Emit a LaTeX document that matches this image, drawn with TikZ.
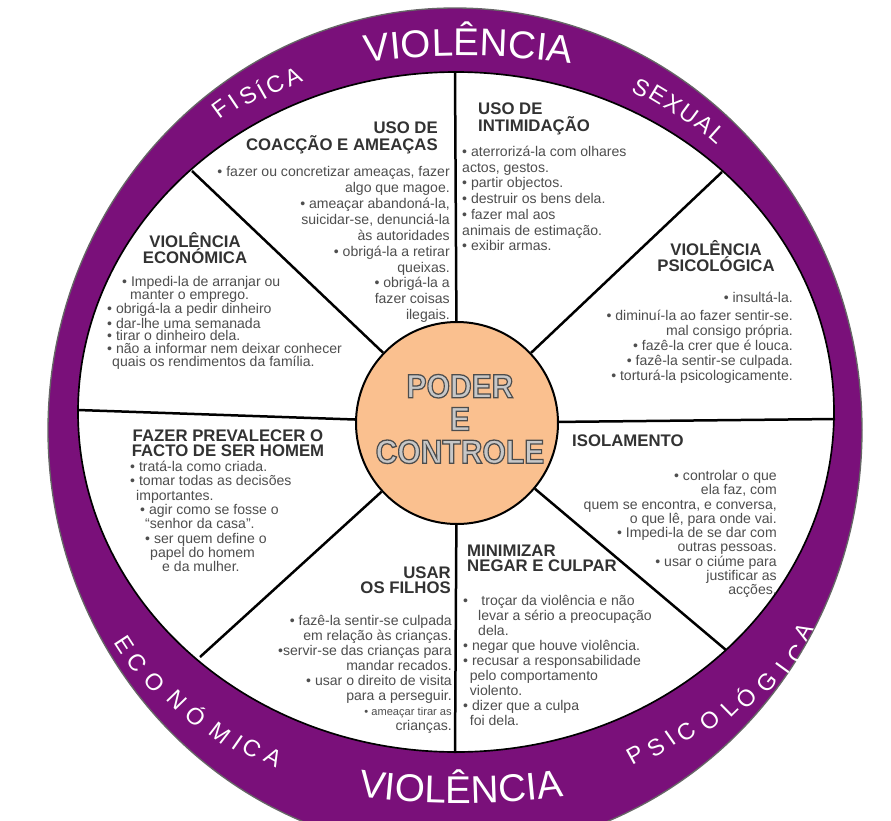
\documentclass[tikz,border=0pt]{standalone}
\usepackage{fontspec}
\setmainfont{Liberation Sans}
\newfontfamily\hubplain{Liberation Sans Bold}
\usetikzlibrary{decorations.text}
\definecolor{ringpurple}{RGB}{122,16,122}
\definecolor{hubpeach}{RGB}{250,192,143}
\definecolor{headgray}{RGB}{50,50,50}
\definecolor{bodygray}{RGB}{78,78,78}
\newcommand{\ringbig}{\fontsize{33}{33}\selectfont}
\newcommand{\outlineon}{\special{pdf:literal 2 Tr 1.1 w 0.3 0.3 0.3 RG}}
\newcommand{\outlineoff}{\special{pdf:literal 0 Tr}}

\begin{document}
\begin{tikzpicture}[x=0.3mm, y=-0.3mm]
        \tikzset{
            head/.style={font=\fontsize{14.3}{12.8}\selectfont\bfseries, text=headgray, inner sep=0pt},
            body/.style={font=\fontsize{12}{#1}\selectfont, text=bodygray, inner sep=0pt},
            body/.default=13.4,
            spoke/.style={line width=0.75mm},
            ringsm/.style={font=\fontsize{20}{20}\selectfont, text=white, inner sep=0pt},
            hubtxt/.style={align=center, inner sep=0pt, xscale=0.9},
            ringword/.style={decorate, decoration={text along path, text={|\ringbig|#1}, text align=center, text color=white}}
        }
        \useasboundingbox (0,0) rectangle (891,821);

        \begin{scope}
            \filldraw[fill=ringpurple, draw=black!60, line width=0.4mm] (455,430) ellipse [x radius=407, y radius=422];
            \filldraw[fill=white, draw=black, line width=0.5mm] (456,412) ellipse [x radius=378, y radius=340];
        \end{scope}

        \node[circle, draw, fill=hubpeach, line width=0.6mm, minimum size=60.6mm, inner sep=0pt] (hub) at (457,423) {};
        \node[hubtxt, font=\hubplain\fontsize{28.5}{28}\selectfont, text=black!22] (hubtext) at (460,419)
        {\outlineon PODER\\\outlineon E\\\outlineon CONTROLE\outlineoff};

        \coordinate (sN) at (455,72);
        \coordinate (sNE) at (722,172);
        \coordinate (sE) at (835,419);
        \coordinate (sSE) at (726,650);
        \coordinate (sS) at (455,753);
        \coordinate (sSW) at (200,657);
        \coordinate (sW) at (78,410);
        \coordinate (sNW) at (192,171);
        \begin{scope}[spoke]
            \foreach \s in {sN,sNE,sE,sSE,sS,sSW,sW,sNW}
                \draw (hub) -- (\s);
        \end{scope}

        \node[head, anchor=north east, align=right] (coachead) at (438,122)
        {USO DE\\COACÇÃO E AMEAÇAS};
        \node[body=13.6, anchor=north east, align=right] (coacbody) at (450,166)
        {• fazer ou concretizar ameaças, fazer\\algo que magoe.\\• ameaçar abandoná-la,\\suicidar-se, denunciá-la\\às autoridades\\• obrigá-la a retirar\\queixas.\\• obrigá-la a\\fazer coisas\\ilegais.};

        \node[head, anchor=north west, align=left] (intihead) at (478,103)
        {USO DE\\INTIMIDAÇÃO};
        \node[body, anchor=north west, align=left] (intibody) at (462,146)
        {• aterrorizá-la com olhares\\actos, gestos.\\• partir objectos.\\• destruir os bens dela.\\• fazer mal aos\\animais de estimação.\\• exibir armas.};

        \node[head, anchor=north, align=center] (econhead) at (195,232)
        {VIOLÊNCIA\\ECONÓMICA};
        \node[body=11, anchor=north west, align=left] (econbody) at (107,276)
        {\hspace*{4.5mm}• Impedi-la de arranjar ou\\\hspace*{6.9mm}manter o emprego.\\• obrigá-la a pedir dinheiro\\• dar-lhe uma semanada\\• tirar o dinheiro dela.\\• não a informar nem deixar conhecer\\\hspace*{1.5mm}quais os rendimentos da família.};

        \node[head, anchor=north, align=center] (psichead) at (716,240)
        {VIOLÊNCIA\\PSICOLÓGICA};
        \node[body=12.8, anchor=north east, align=right] (psicbody) at (793,292)
        {• insultá-la.\\[0.9mm]• diminuí-la ao fazer sentir-se.\\mal consigo própria.\\• fazê-la crer que é louca.\\• fazê-la sentir-se culpada.\\• torturá-la psicologicamente.};

        \node[head, anchor=north, align=center] (homehead) at (228,430)
        {FAZER PREVALECER O\\FACTO DE SER HOMEM};
        \node[body=12.2, anchor=north west, align=left] (homebody) at (130,461)
        {• tratá-la como criada.\\• tomar todas as decisões\\\hspace*{1.8mm}importantes.\\\hspace*{3mm}• agir como se fosse o\\\hspace*{4.5mm}“senhor da casa”.\\\hspace*{4.5mm}• ser quem define o\\\hspace*{6mm}papel do homem\\\hspace*{9.6mm}e da mulher.};

        \node[head, anchor=north west, align=left] (isolhead) at (572,435)
        {ISOLAMENTO};
        \node[body=12.2, anchor=north east, align=right] (isolbody) at (777,470)
        {• controlar o que\\ela faz, com\\quem se encontra, e conversa,\\o que lê, para onde vai.\\• Impedi-la de se dar com\\outras pessoas.\\• usar o ciúme para\\justificar as\\acções.};

        \node[head, anchor=north east, align=right] (filhead) at (451,567)
        {USAR\\OS FILHOS};
        \node[body=12.8, anchor=north east, align=right] (filbody) at (452,615)
        {• fazê-la sentir-se culpada\\em relação às crianças.\\•servir-se das crianças para\\mandar recados.\\• usar o direito de visita\\para a perseguir.\\{\fontsize{9.5}{12.8}\selectfont • ameaçar tirar as}\\crianças.};

        \node[head, anchor=north west, align=left] (minihead) at (467,545)
        {MINIMIZAR\\NEGAR E CULPAR};
        \node[body=12.8, anchor=north west, align=left] (minibody) at (463,595)
        {•\hspace{4mm}troçar da violência e não\\\hspace*{4.5mm}levar a sério a preocupação\\\hspace*{4.5mm}dela.\\• negar que houve violência.\\• recusar a responsabilidade\\\hspace*{2mm}pelo comportamento\\\hspace*{2mm}violento.\\• dizer que a culpa\\\hspace*{2mm}foi dela.};

        \path[ringword=VIOLÊNCIA] (355,64) .. controls (425,53) and (500,53) .. (582,65);
        \path[ringword=VIOLÊNCIA] (350,795) .. controls (420,806) and (500,806) .. (572,795);

        \foreach \ch/\x/\y [count=\i] in {F/221/109, I/234/102, S/248/96, Í/261/90, C/275/84, A/293/77,
                S/641/88, E/658/95, X/673/104, U/689/114, A/705/124, L/718/135} {
            \pgfmathsetmacro\r{atan2(430-\y,\x-455)-90}
            \node[ringsm, rotate=\r] (top\i) at (\x,\y) {\ch};
        }
        \foreach \ch/\x/\y [count=\i] in {E/125/645, C/137/663, O/155/682, N/177/700, Ó/197/715, M/220/733,
                I/238/743, C/252/748, A/273/757, P/635/755, S/656/747, I/671/738, C/686/732, O/710/720,
                L/729/708, Ó/745/697, G/767/682, I/783/668, C/797/654, A/803/632} {
            \pgfmathsetmacro\r{atan2(\y-430,455-\x)-90}
            \node[ringsm, rotate=\r] (bot\i) at (\x,\y) {\ch};
        }
\end{tikzpicture}
\end{document}
